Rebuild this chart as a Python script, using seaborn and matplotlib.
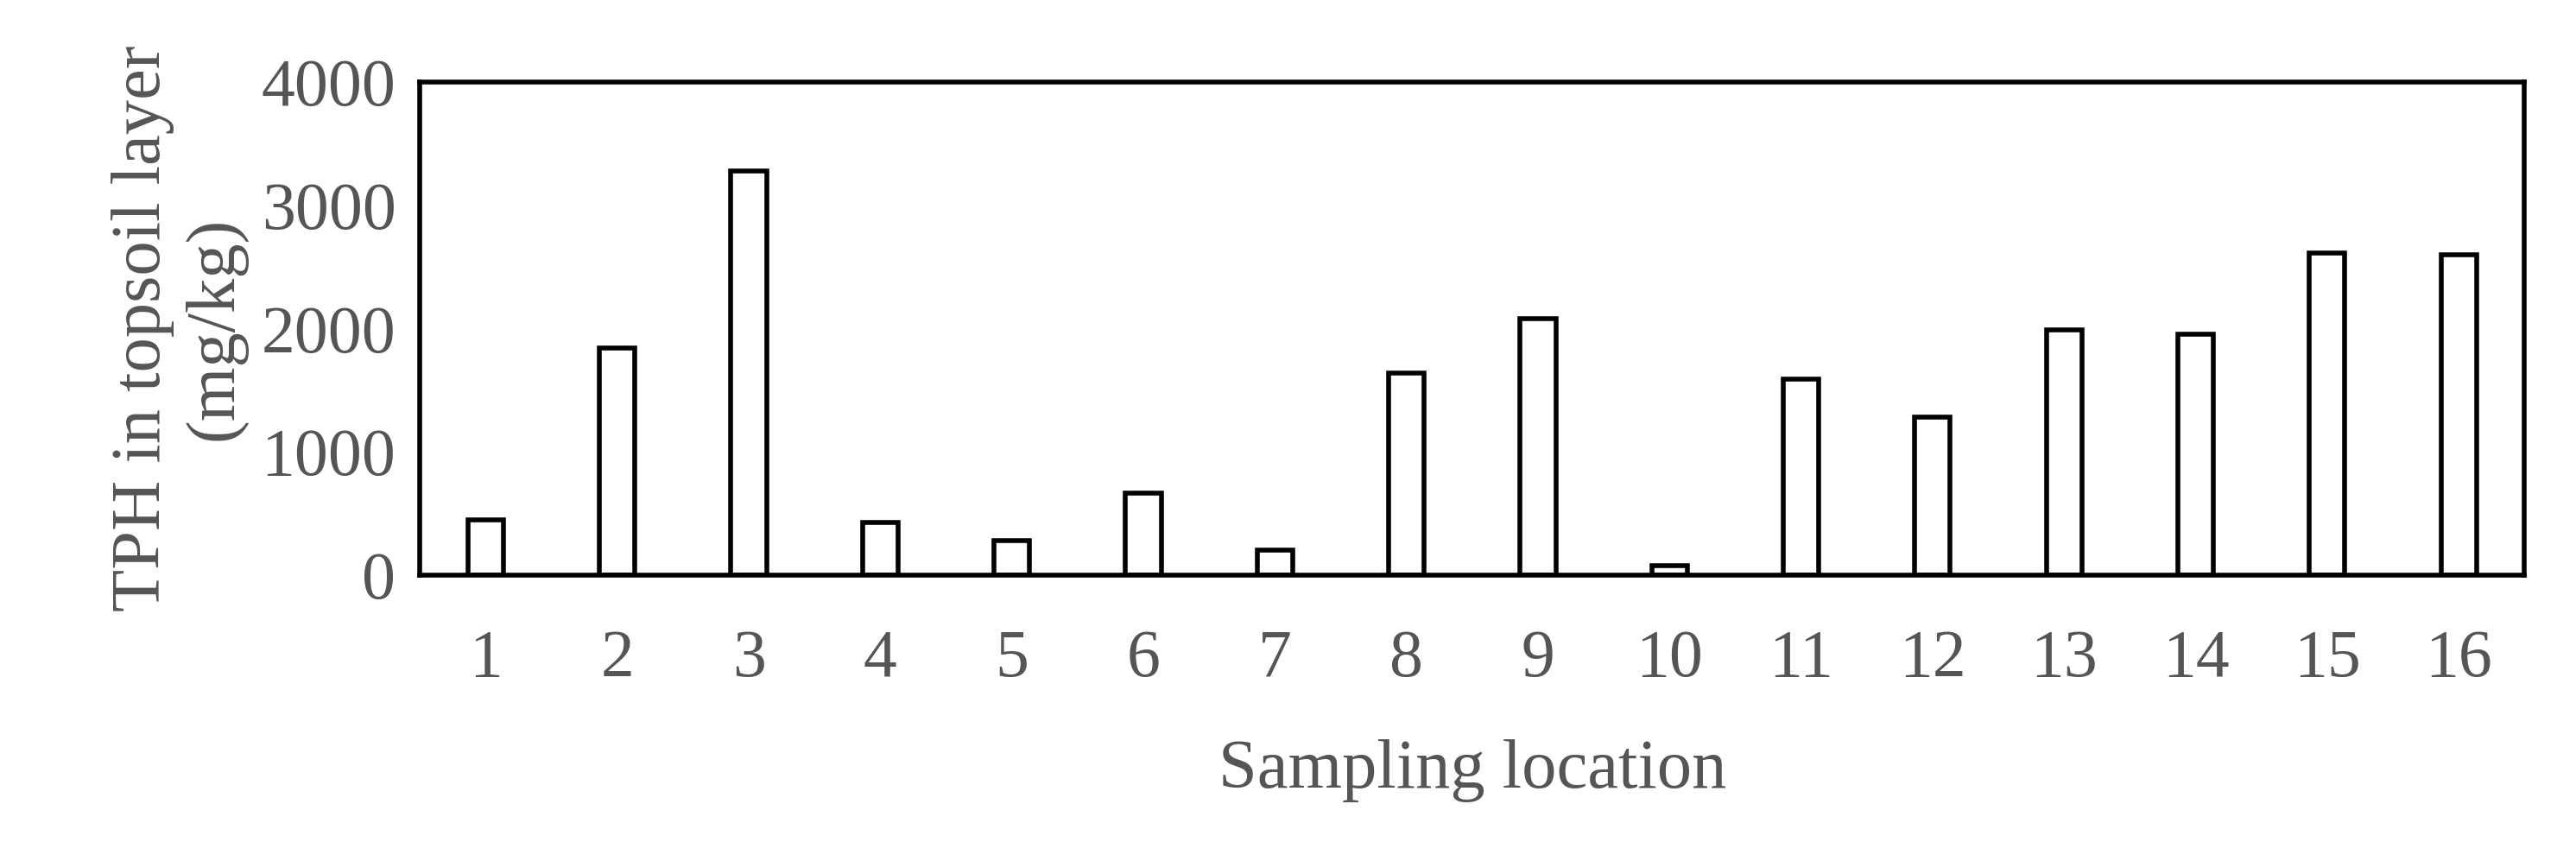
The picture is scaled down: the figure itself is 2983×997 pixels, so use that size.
import numpy as np
import pandas as pd
import matplotlib
matplotlib.use('Agg')
import matplotlib.pyplot as plt
import seaborn as sns

locations = [str(i) for i in range(1, 17)]
tph = [450, 1840, 3280, 430, 280, 667, 200, 1640, 2080, 80, 1590, 1280, 1990, 1950, 2615, 2600]

sns.set_style('white')
plt.rcParams['font.family'] = ['Liberation Serif', 'DejaVu Serif']

df = pd.DataFrame({'loc': locations, 'tph': tph})

fig = plt.figure(figsize=(29.83, 9.97), dpi=100)
ax = fig.add_axes([0.163, 0.332, 0.817, 0.573])
sns.barplot(data=df, x='loc', y='tph', ax=ax, color='white', edgecolor='black',
            linewidth=4, width=0.27, saturation=1)

ax.set_ylim(0, 4000)
ax.set_xlim(-0.5, 15.5)
ax.set_yticks([0, 1000, 2000, 3000, 4000])
for s in ax.spines.values():
    s.set_visible(True)
    s.set_color('black')
    s.set_linewidth(4)
ax.tick_params(axis='both', length=0, labelsize=56, colors='#555555')
ax.tick_params(axis='x', pad=45)
ax.tick_params(axis='y', pad=20)
ax.set_xlabel('Sampling location', fontsize=58, color='#555555', labelpad=40)
ax.set_ylabel('TPH in topsoil layer\n(mg/kg)', fontsize=58, color='#555555', labelpad=12)

fig.savefig('out.png', dpi=100, facecolor='white')
